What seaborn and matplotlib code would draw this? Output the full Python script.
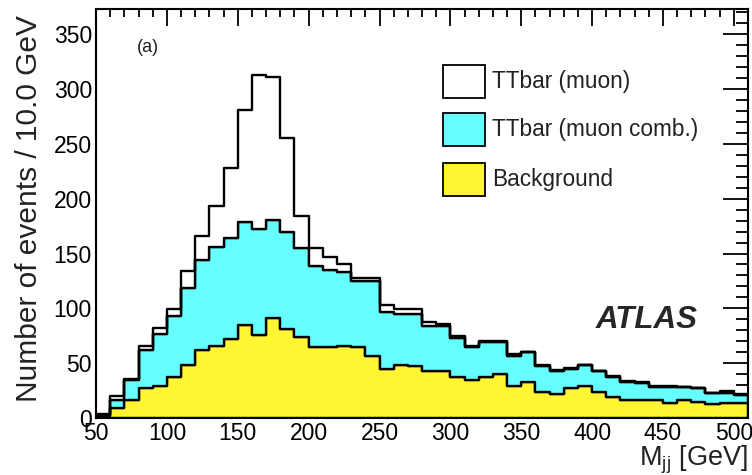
import numpy as np
import pandas as pd
import matplotlib
matplotlib.use("Agg")
import matplotlib.pyplot as plt
import seaborn as sns
from matplotlib.patches import Rectangle
from matplotlib.ticker import MultipleLocator

# 10 GeV bins of the three-jet invariant mass
bin_lo = np.arange(50, 510, 10)
bin_width = 10

# Events per bin for each stacked component
background = [2, 9, 16, 27, 29, 37, 48, 62, 66, 72, 85, 76, 91, 81, 74, 65, 65, 66, 65, 57,
              45, 48, 47, 43, 43, 37, 35, 37, 40.5, 29.5, 33, 23.5, 22, 27.5, 29.5, 23.5,
              19, 16.5, 16, 16, 14, 16, 14.3, 12.5, 14, 14]
ttbar_comb = [1, 7, 18.5, 35, 48, 56, 70.5, 82, 90, 92, 94, 96, 90, 89, 81, 74, 70, 67.5, 59.5, 67.5,
              52, 47, 48, 41, 41, 36, 30, 32, 28.5, 27.5, 27, 23.5, 21, 17.5, 18.5, 19,
              18, 16.5, 16, 12.6, 14.6, 12, 12.7, 10.1, 8.5, 7]
ttbar_muon = [1, 4, 1.5, 4, 5, 6, 15.5, 22, 37, 64, 102, 141, 130, 85, 29, 16, 12, 6.5, 3.5, 3.5,
              6, 4, 4, 4, 2, 1.5, 1, 1, 1, 1, 0.5, 1, 0.5, 1, 0.5, 0.5,
              1, 0.5, 0.5, 0.4, 0.4, 0.5, 0.5, 0.4, 2, 1]

labels = ["TTbar (muon)", "TTbar (muon comb.)", "Background"]
colors = ["#ffffff", "#66ffff", "#fff533"]

centers = bin_lo + bin_width / 2
edges = [float(e) for e in np.append(bin_lo, bin_lo[-1] + bin_width)]
df = pd.concat([
    pd.DataFrame({"mjj": centers, "events": vals, "sample": name})
    for name, vals in zip(labels, [ttbar_muon, ttbar_comb, background])
], ignore_index=True)

sns.set_style("white")
plt.rcParams["font.family"] = ["Liberation Sans", "DejaVu Sans"]
plt.rcParams["mathtext.fontset"] = "custom"
plt.rcParams["mathtext.rm"] = "Liberation Sans"
plt.rcParams["mathtext.it"] = "Liberation Sans"

fig = plt.figure(figsize=(7.52, 4.75), dpi=100)
ax = fig.add_axes([0.1277, 0.12, 0.867, 0.861])

sns.histplot(data=df, x="mjj", weights="events", hue="sample", hue_order=labels,
             palette=dict(zip(labels, colors)), bins=edges, multiple="stack",
             element="step", fill=True, alpha=1, edgecolor="black", linewidth=1.7,
             legend=False, ax=ax)

ax.set_xlim(50, 510)
ax.set_ylim(0, 373)
ax.xaxis.set_major_locator(MultipleLocator(50))
ax.xaxis.set_minor_locator(MultipleLocator(10))
ax.yaxis.set_major_locator(MultipleLocator(50))
ax.yaxis.set_minor_locator(MultipleLocator(10))
ax.tick_params(axis="both", which="both", direction="in", top=True, right=True,
               width=1.3, colors="black", labelsize=16.5)
ax.tick_params(axis="x", which="major", length=12, pad=3)
ax.tick_params(axis="x", which="minor", length=6)
ax.tick_params(axis="y", which="major", length=18, pad=3)
ax.tick_params(axis="y", which="minor", length=9)
for sp in ax.spines.values():
    sp.set_linewidth(1.5)
    sp.set_color("black")
    sp.set_visible(True)

ax.set_ylabel("Number of events / 10.0 GeV", fontsize=21.5, loc="top", color="#222222")
ax.yaxis.set_label_coords(-0.081, 0.985)
ax.set_xlabel(r"M$_{\mathrm{jj}}$ [GeV]", fontsize=19.5, loc="right", color="#222222")
ax.xaxis.set_label_coords(1.0, -0.062)

ax.text(0.08, 0.905, "(a)", transform=ax.transAxes, fontsize=13, ha="center", va="center",
        color="#222222")
ax.text(0.845, 0.24, "ATLAS", transform=ax.transAxes, fontsize=22.5, fontweight="bold",
        fontstyle="italic", ha="center", va="center")

# Legend entries: filled boxes with labels
box_y = [0.782, 0.665, 0.543]
for y0, name, col in zip(box_y, labels, colors):
    ax.add_patch(Rectangle((0.532, y0), 0.0644, 0.0807, transform=ax.transAxes,
                           facecolor=col, edgecolor="black", linewidth=1.3, zorder=5))
    ax.text(0.607, y0 + 0.041, name, transform=ax.transAxes, fontsize=16.3,
            ha="left", va="center", color="#222222", zorder=5)

fig.savefig("out.png", dpi=100)
